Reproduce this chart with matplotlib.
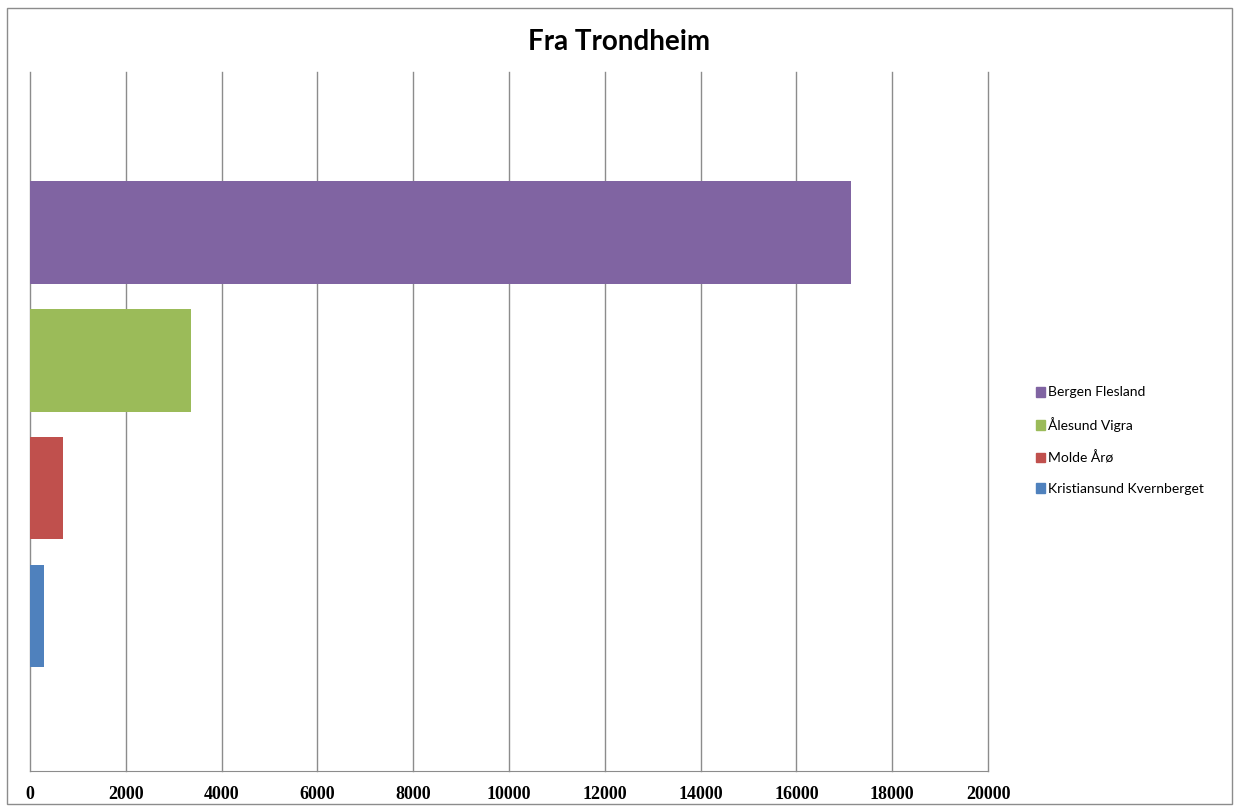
import matplotlib.pyplot as plt
from matplotlib.patches import Patch, Rectangle

# Passasjertall fra Trondheim
destinasjoner = ['Kristiansund Kvernberget', 'Molde Årø', 'Ålesund Vigra', 'Bergen Flesland']
antall = [300, 690, 3370, 17130]
farger = ['#4F81BD', '#C0504D', '#9BBB59', '#8064A2']
xticks = [0, 2000, 4000, 6000, 8000, 10000, 12000, 14000, 16000, 18000, 20000]

fig = plt.figure(figsize=(12.39, 8.10), dpi=100)
ax = fig.add_axes([30/1239, 1 - 771/810, 958/1239, 699/810])

pos = list(range(len(destinasjoner)))
ax.barh(pos, antall, height=0.8, color=farger, zorder=3)

ax.set_xlim(0, 20000)
ax.set_ylim(-1.21, 4.254)
ax.set_xticks(xticks)
ax.set_xticklabels([str(v) for v in xticks], fontfamily='Liberation Serif',
                   fontweight='bold', fontsize=13)
ax.tick_params(axis='x', length=0, pad=11)
ax.set_yticks([])
ax.grid(axis='x', color='#8c8c8c', lw=1, zorder=0)
for gl in ax.get_xgridlines():
    gl.set_clip_on(False)
for s in ['top', 'right', 'left']:
    ax.spines[s].set_visible(False)
ax.spines['bottom'].set_color('#8c8c8c')

fig.text(0.5, 1 - 42/810, 'Fra Trondheim', ha='center', va='center',
         fontfamily='Lato', fontweight='bold', fontsize=20)

# legenden viser Bergen øverst
handles = [Patch(color=c) for c in farger[::-1]]
fig.legend(handles, destinasjoner[::-1], loc='upper left',
           bbox_to_anchor=(1023/1239, 1 - 374/810), frameon=False,
           handlelength=0.7, handleheight=0.7, handletextpad=0.2,
           labelspacing=1.35, prop={'family': 'Lato', 'size': 10})

fig.patches.append(Rectangle((7/1239, 6/810), 1225/1239, 796/810,
                             transform=fig.transFigure, fill=False,
                             edgecolor='#8c8c8c', lw=1))

fig.savefig('out.png', dpi=100)
